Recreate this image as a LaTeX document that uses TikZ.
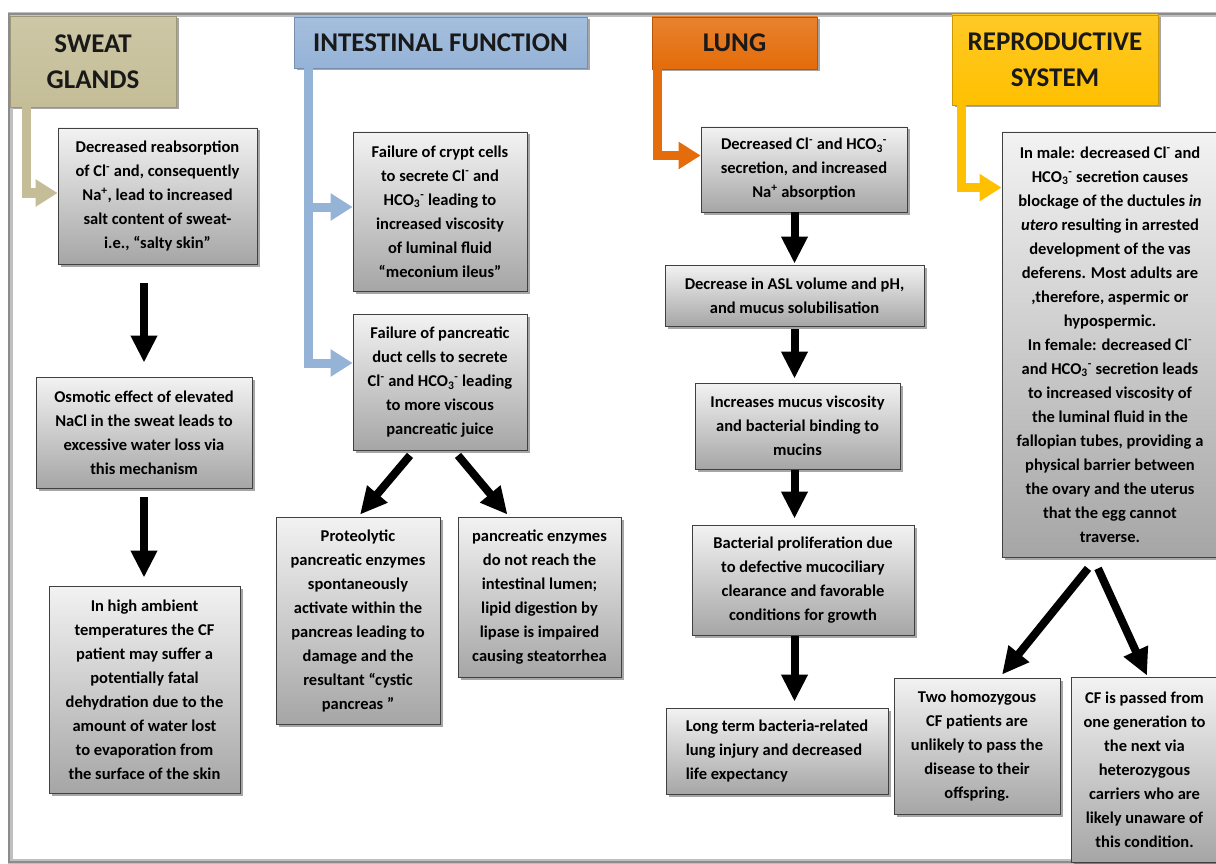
\documentclass[tikz,border=0pt]{standalone}
\usepackage{fontspec}
\setmainfont{Carlito}
\usetikzlibrary{arrows.meta,shadows,calc}
\definecolor{tanc}{HTML}{C4BD97}
\definecolor{bluec}{HTML}{95B3D7}
\definecolor{orangec}{HTML}{E46C0A}
\definecolor{goldc}{HTML}{FFC000}
\newcommand\clm{Cl\textsuperscript{-}}
\newcommand\hco{HCO\textsubscript{3}\textsuperscript{-}}
\newcommand\nap{Na\textsuperscript{+}}
\tikzset{
  cbox/.style={draw=black!75, line width=0.8pt, top color=gray!10, bottom color=gray!70,
    align=center, inner sep=3pt, font=\bfseries\fontsize{16.5}{24}\selectfont,
    drop shadow={shadow xshift=2.5pt, shadow yshift=-2.5pt, opacity=0.35, fill=black}},
  hdr/.style={draw=#1!80!black, line width=0.8pt, top color=#1!85!white, bottom color=#1,
    align=center, font=\bfseries\fontsize{27}{36}\selectfont, text=black!90,
    drop shadow={shadow xshift=2.5pt, shadow yshift=-2.5pt, opacity=0.35, fill=black}},
  conn/.style={draw=#1, line width=9pt, -{Triangle[width=26pt,length=22pt]}},
  blk/.style={draw=black, line width=8pt, -{Triangle[width=25pt,length=27pt]}},
}
\begin{document}
\begin{tikzpicture}[x=1pt,y=-1pt]
\useasboundingbox (0,0) rectangle (1216,864);
\fill[white] (0,0) rectangle (1216,864);
% page frame
\draw[black!25, line width=5pt] (1222,15) -- (10,15) -- (10,861) -- (1222,861);
\draw[black!45, line width=1.5pt] (1222,14) -- (9,14) -- (9,862) -- (1222,862);

% headers
\node[hdr=tanc, minimum width=166pt, minimum height=91pt] (H1) at (93,61.5) {SWEAT\\GLANDS};
\node[hdr=bluec, minimum width=293pt, minimum height=51pt] (H2) at (440.5,42.5) {INTESTINAL FUNCTION};
\node[hdr=orangec, minimum width=165pt, minimum height=52pt] (H3) at (734.5,43) {LUNG};
\node[hdr=goldc, minimum width=206pt, minimum height=90pt] (H4) at (1055,60) {REPRODUCTIVE\\SYSTEM};

% sweat glands
\node[cbox, minimum width=199pt, minimum height=136pt] (S1) at (157.5,196)
  {Decreased reabsorption\\ of \clm\ and, consequently\\ \nap, lead to increased\\ salt content of sweat-\\ i.e., “salty skin”};
\node[cbox, minimum width=216pt, minimum height=111pt] (S2) at (144,432.5)
  {Osmotic effect of elevated\\ NaCl in the sweat leads to\\ excessive water loss via\\ this mechanism};
\node[cbox, minimum width=191pt, minimum height=207pt] (S3) at (144.5,689.5)
  {In high ambient\\ temperatures the CF\\ patient may suffer a\\ potentially fatal\\ dehydration due to the\\ amount of water lost\\ to evaporation from\\ the surface of the skin};

% intestinal
\node[cbox, minimum width=174pt, minimum height=159pt] (I1) at (440,211.5)
  {Failure of crypt cells\\ to secrete \clm\ and\\ \hco\ leading to\\ increased viscosity\\ of luminal fluid\\ “meconium ileus”};
\node[cbox, minimum width=174pt, minimum height=136pt] (I2) at (440,382)
  {Failure of pancreatic\\ duct cells to secrete\\ \clm\ and \hco\ leading\\ to more viscous\\ pancreatic juice};
\node[cbox, minimum width=164pt, minimum height=207pt] (I3) at (358,620.5)
  {Proteolytic\\ pancreatic enzymes\\ spontaneously\\ activate within the\\ pancreas leading to\\ damage and the\\ resultant “cystic\\ pancreas ”};
\node[cbox, minimum width=163pt, minimum height=160pt] (I4) at (539.5,597)
  {pancreatic enzymes\\ do not reach the\\ intestinal lumen;\\ lipid digestion by\\ lipase is impaired\\ causing steatorrhea};

% lung
\node[cbox, minimum width=206pt, minimum height=85pt] (L1) at (804,169.5)
  {Decreased \clm\ and \hco\\ secretion, and increased\\ \nap\ absorption};
\node[cbox, minimum width=259pt, minimum height=61pt] (L2) at (794.5,295.5)
  {Decrease in ASL volume and pH,\\ and mucus solubilisation};
\node[cbox, minimum width=205pt, minimum height=86pt] (L3) at (797.5,426)
  {Increases mucus viscosity\\ and bacterial binding to\\ mucins};
\node[cbox, minimum width=222pt, minimum height=110pt] (L4) at (803,580)
  {Bacterial proliferation due\\ to defective mucociliary\\ clearance and favorable\\ conditions for growth};
\node[cbox, align=left, minimum width=222pt, minimum height=86pt] (L5) at (777,751)
  {Long term bacteria-related\\ lung injury and decreased\\ life expectancy};

% reproductive
\node[cbox, minimum width=216pt, minimum height=425pt] (R1) at (1110,344.5)
  {In male: decreased \clm\ and\\ \hco\ secretion causes\\ blockage of the ductules \textit{in}\\ \textit{utero} resulting in arrested\\ development of the vas\\ deferens. Most adults are\\ ,therefore, aspermic or\\ hypospermic.\\ In female: decreased \clm\\ and \hco\ secretion leads\\ to increased viscosity of\\ the luminal fluid in the\\ fallopian tubes, providing a\\ physical barrier between\\ the ovary and the uterus\\ that the egg cannot\\ traverse.};
\node[cbox, minimum width=166pt, minimum height=136pt] (R2) at (977,746)
  {Two homozygous\\ CF patients are\\ unlikely to pass the\\ disease to their\\ offspring.};
\node[cbox, minimum width=147pt, minimum height=185pt] (R3) at (1144.5,769.5)
  {CF is passed from\\ one generation to\\ the next via\\ heterozygous\\ carriers who are\\ likely unaware of\\ this condition.};

% coloured connectors
\draw[conn=tanc] ([xshift=17pt]H1.south west) |- ([yshift=3pt]S1.west);
\draw[conn=bluec] ([xshift=15pt]H2.south west) |- ([yshift=4.5pt]I1.west);
\draw[conn=bluec] ([xshift=15pt]H2.south west) |- ([yshift=19pt]I2.west);
\draw[conn=orangec] ([xshift=6pt]H3.south west) |- ([yshift=14pt]L1.west);
\draw[conn=goldc] ([xshift=10pt]H4.south west) |- ([yshift=-56pt]R1.north west);

% black arrows
\draw[blk, shorten <=19pt, shorten >=14pt] (S1.south -| S2.north) -- (S2.north);
\draw[blk, shorten <=9pt, shorten >=8pt] (S2.south) -- (S2.south |- S3.north);
\draw[blk] ([xshift=-30pt,yshift=-5pt]I2.south) -- ([xshift=2pt,yshift=2pt]I3.north);
\draw[blk] ([xshift=18pt,yshift=-5pt]I2.south) -- ([xshift=-32pt,yshift=2pt]I4.north);
\draw[blk, shorten >=1pt] (L1.south -| L2.north) -- (L2.north);
\draw[blk, shorten <=3pt, shorten >=4pt] (L2.south) -- (L2.south |- L3.north);
\draw[blk, shorten <=1pt, shorten >=6pt] (L3.south -| L2.south) -- (L2.south |- L4.north);
\draw[blk, shorten <=1pt, shorten >=6pt] (L4.south -| L2.south) -- (L2.south |- L5.north);
\draw[blk] ([xshift=-22pt,yshift=-11pt]R1.south) -- ([xshift=25pt,yshift=3pt]R2.north);
\draw[blk] ([xshift=-12pt,yshift=-11pt]R1.south) -- ([xshift=2.5pt,yshift=1pt]R3.north);
\end{tikzpicture}
\end{document}
